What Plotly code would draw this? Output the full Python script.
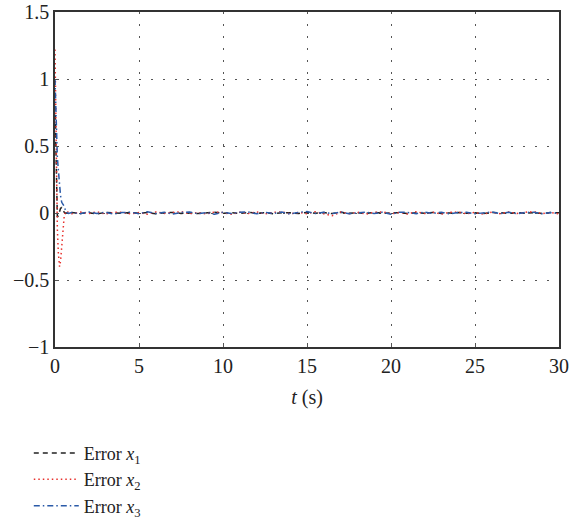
import numpy as np
import plotly.graph_objects as go

# transient time points (s)
t_trans = [0.0, 0.03, 0.06, 0.1, 0.14, 0.2, 0.27, 0.33, 0.4, 0.47, 0.55, 0.62, 0.7, 0.8, 0.9]
x1_trans = [0.80, 0.55, 0.30, 0.08, -0.03, -0.02, 0.02, 0.035, 0.04, 0.02, 0.005, -0.003, 0.0, 0.004, -0.002]
x2_trans = [1.22, 0.85, 0.45, 0.10, -0.12, -0.30, -0.40, -0.36, -0.25, -0.12, -0.02, 0.01, 0.012, 0.004, -0.003]
x3_trans = [1.00, 0.85, 0.68, 0.52, 0.42, 0.32, 0.20, 0.13, 0.08, 0.065, 0.05, 0.02, 0.004, -0.003, 0.002]

# steady-state samples, 1.0 s .. 30.0 s every 0.5 s
t_steady = list(np.arange(1.0, 30.001, 0.5))
x1_steady = [0.003, -0.004, 0.002, -0.006, 0.004, 0.001, -0.003, 0.005, -0.002, 0.003,
             -0.005, 0.002, 0.004, -0.003, 0.001, -0.004, 0.003, 0.006, -0.002, 0.002,
             -0.003, 0.004, -0.001, 0.003, -0.005, 0.002, 0.001, -0.003, 0.004, -0.002,
             0.003, -0.004, 0.005, -0.001, 0.002, -0.003, 0.004, -0.002, 0.001, 0.003,
             -0.004, 0.002, -0.001, 0.004, -0.003, 0.002, 0.003, -0.002, 0.001, -0.004,
             0.003, 0.002, -0.003, 0.004, -0.001, 0.002, -0.003, 0.003, 0.001]
x2_steady = [-0.006, 0.007, -0.004, 0.009, -0.008, 0.005, 0.006, -0.007, 0.004, -0.010,
             0.008, -0.003, 0.006, 0.010, -0.006, 0.004, -0.008, 0.007, 0.003, -0.009,
             0.006, -0.004, 0.008, -0.006, 0.005, 0.009, -0.007, 0.004, -0.005, 0.010,
             -0.006, -0.020, 0.007, -0.005, 0.006, -0.008, 0.004, 0.009, -0.006, 0.005,
             -0.007, 0.010, -0.004, 0.006, -0.008, 0.005, 0.007, -0.006, 0.004, -0.009,
             0.006, -0.005, 0.008, -0.004, 0.006, 0.010, -0.005, 0.004, -0.006]
x3_steady = [0.004, -0.006, 0.008, -0.003, 0.005, -0.007, 0.003, 0.006, -0.005, 0.009,
             -0.004, 0.006, -0.008, 0.004, 0.007, -0.005, 0.003, -0.010, 0.006, -0.004,
             0.005, 0.008, -0.006, 0.004, -0.003, 0.007, -0.008, 0.005, 0.011, -0.004,
             0.006, -0.005, 0.008, -0.006, 0.003, 0.007, -0.004, 0.005, -0.009, 0.006,
             0.004, -0.005, 0.007, -0.003, 0.006, -0.007, 0.004, 0.005, -0.006, 0.003,
             0.008, -0.004, 0.005, -0.006, 0.004, 0.006, -0.005, 0.003, -0.004]

t = t_trans + t_steady
x1 = x1_trans + x1_steady
x2 = x2_trans + x2_steady
x3 = x3_trans + x3_steady

font_family = "Liberation Serif, Times New Roman, serif"

fig = go.Figure()
fig.add_trace(go.Scatter(x=t, y=x1, mode="lines", name="Error <i>x</i><sub>1</sub>",
                         line=dict(color="#222222", width=1.5, dash="5px,4px")))
fig.add_trace(go.Scatter(x=t, y=x2, mode="lines", name="Error <i>x</i><sub>2</sub>",
                         line=dict(color="#e8302c", width=1.5, dash="1.5px,3px")))
fig.add_trace(go.Scatter(x=t, y=x3, mode="lines", name="Error <i>x</i><sub>3</sub>",
                         line=dict(color="#2a5aa8", width=1.5, dash="6px,3px,1.5px,3px")))

axis_common = dict(
    showline=True, linecolor="#333333", linewidth=1.5, mirror=True,
    showgrid=True, gridcolor="#555555", gridwidth=1, griddash="2px,10px",
    zeroline=False, ticks="inside", ticklen=4, tickcolor="#555555",
    tickfont=dict(family=font_family, size=20, color="#222222"),
)

fig.update_layout(
    width=576, height=527,
    margin=dict(l=55, r=17, t=12, b=180, autoexpand=False),
    paper_bgcolor="white", plot_bgcolor="white",
    font=dict(family=font_family, size=20, color="#222222"),
    xaxis=dict(range=[0, 30], tickvals=[0, 5, 10, 15, 20, 25, 30],
               title=dict(text="<i>t</i> (s)", standoff=14,
                          font=dict(family=font_family, size=20)),
               **axis_common),
    yaxis=dict(range=[-1, 1.5], tickvals=[-1, -0.5, 0, 0.5, 1, 1.5],
               ticktext=["\u22121", "\u22120.5", "0", "0.5", "1", "1.5"],
               **axis_common),
    legend=dict(x=-0.052, y=-0.262, xanchor="left", yanchor="top",
                bgcolor="rgba(0,0,0,0)", font=dict(family=font_family, size=18),
                tracegroupgap=0, itemwidth=45),
    showlegend=True,
)

fig.write_html("out.html")
